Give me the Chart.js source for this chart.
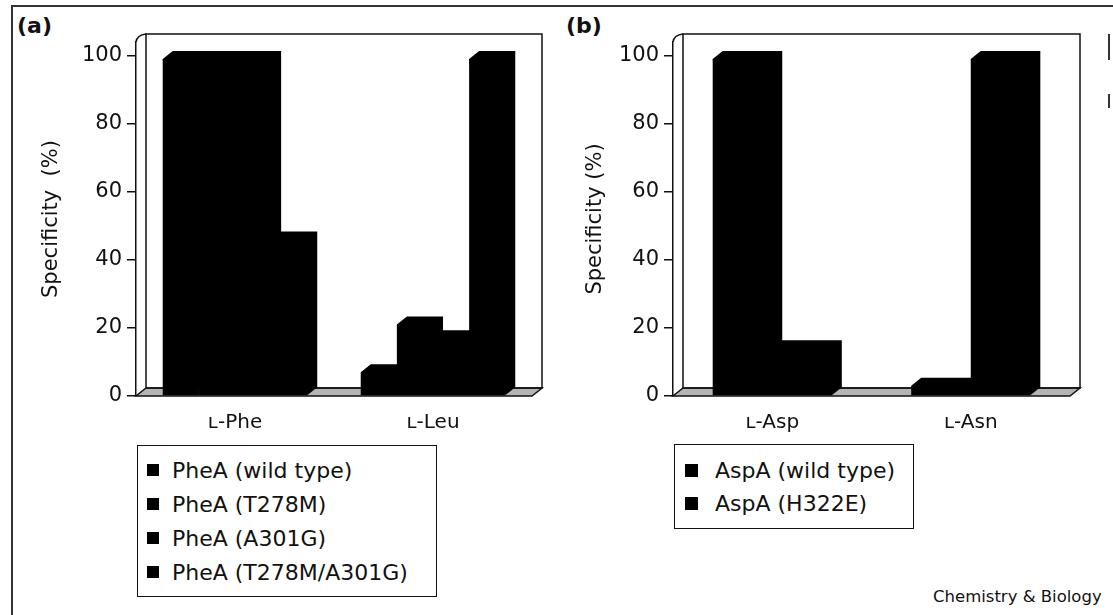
<!DOCTYPE html>
<html>
<head>
<meta charset="utf-8">
<script src="https://cdn.jsdelivr.net/npm/chart.js@4.4.1/dist/chart.umd.min.js"></script>
<style>
  body { margin: 0; background: #fff; font-family: 'DejaVu Sans', sans-serif; color: #111; }
  #page { position: relative; width: 1113px; height: 615px; overflow: hidden; background: #fff; }
  .rule { position: absolute; background: #333; }
  .tag { position: absolute; top: 13px; font-size: 22px; font-weight: bold; }
  canvas { position: absolute; top: 0; }
  .legend { position: absolute; border: 1.5px solid #111; box-sizing: border-box; }
  .legend .item { position: absolute; display: flex; align-items: center; height: 26px; font-size: 22px; white-space: nowrap; }
  .legend .swatch { position: absolute; top: 7px; }
  .credit { position: absolute; left: 933px; top: 587px; font-size: 16.5px; white-space: nowrap; }
</style>
</head>
<body>
<div id="page">
  <div class="rule" style="left:12px; top:5px; width:1101px; height:2px"></div>
  <div class="rule" style="left:11px; top:5px; width:2px; height:610px"></div>
  <div class="rule" style="left:1108px; top:34px; width:2px; height:26px"></div>
  <div class="rule" style="left:1108px; top:94px; width:2px; height:14px"></div>

  <div class="tag" style="left:17px">(a)</div>
  <div class="tag" style="left:566px">(b)</div>

  <canvas id="chartA" width="556" height="440" style="left:0"></canvas>
  <canvas id="chartB" width="557" height="440" style="left:556px"></canvas>

  <div class="legend" id="legendA" style="left:137px; top:445px; width:300px; height:152px"></div>
  <div class="legend" id="legendB" style="left:674px; top:444px; width:240px; height:85px"></div>

  <div class="credit">Chemistry &amp; Biology</div>
</div>

<script>
// ---- data ----
const pheCategories = ['ʟ-Phe', 'ʟ-Leu']
const pheWildType = [99, 7]
const pheT278M = [99, 21]
const pheA301G = [99, 17]
const pheT278MA301G = [46, 99]

const aspCategories = ['ʟ-Asp', 'ʟ-Asn']
const aspWildType = [99, 3]
const aspH322E = [14, 99]

const yTickValues = [0, 20, 40, 60, 80, 100]
const yMax = 104

// depth of the fake 3D box
const depth = { dx: 10, dy: 8 }

const box3d = {
    id: 'box3d',
    beforeDatasetsDraw(chart) {
        const { ctx, chartArea: { left, right, top, bottom } } = chart
        const { dx, dy } = depth
        ctx.save()
        ctx.lineWidth = 1.5
        ctx.strokeStyle = '#111'
        // floor
        ctx.beginPath()
        ctx.moveTo(left, bottom)
        ctx.lineTo(right, bottom)
        ctx.lineTo(right + dx, bottom - dy)
        ctx.lineTo(left + dx, bottom - dy)
        ctx.closePath()
        ctx.fillStyle = '#b4b4b4'
        ctx.fill()
        ctx.stroke()
        // back wall
        ctx.strokeRect(left + dx, top - dy, right - left, bottom - top)
        // left wall top edge
        ctx.beginPath()
        ctx.moveTo(left, top)
        ctx.quadraticCurveTo(left + 1, top - dy + 1, left + dx, top - dy)
        ctx.stroke()
        ctx.restore()
    },
    afterDatasetsDraw(chart) {
        const { ctx } = chart
        const { dx, dy } = depth
        ctx.save()
        chart.data.datasets.forEach((ds, i) => {
            const meta = chart.getDatasetMeta(i)
            if (meta.hidden) return
            meta.data.forEach(bar => {
                const { x, y, base, width } = bar.getProps(['x', 'y', 'base', 'width'], true)
                const x0 = x - width / 2
                const x1 = x + width / 2
                // top face + right side face
                ctx.beginPath()
                ctx.moveTo(x0, y)
                ctx.lineTo(x0 + dx, y - dy)
                ctx.lineTo(x1 + dx, y - dy)
                ctx.lineTo(x1 + dx, base - dy)
                ctx.lineTo(x1, base)
                ctx.closePath()
                ctx.fillStyle = ds.backgroundColor
                ctx.fill()
            })
        })
        ctx.restore()
    }
}

const makeOptions = ({ yWidth, titlePad, padRight, titleText, catPct }) => ({
    responsive: false,
    animation: false,
    devicePixelRatio: 1,
    layout: { padding: { top: 42, right: padRight, bottom: 0, left: 0 } },
    datasets: { bar: { categoryPercentage: catPct, barPercentage: 1 } },
    plugins: {
        legend: { display: false },
        tooltip: { enabled: false }
    },
    scales: {
        x: {
            grid: { display: false, drawTicks: false },
            border: { display: false },
            ticks: { color: '#111', padding: 15, font: { family: 'DejaVu Sans', size: 20 } },
            afterFit: s => { s.height = 44 }
        },
        y: {
            min: 0,
            max: yMax,
            afterBuildTicks: s => { s.ticks = yTickValues.map(v => ({ value: v })) },
            grid: { drawOnChartArea: false, drawTicks: true, tickLength: 9, color: '#111', lineWidth: 1.5 },
            border: { display: true, color: '#111', width: 1.5 },
            ticks: { color: '#111', padding: 5, font: { family: 'DejaVu Sans', size: 21 } },
            title: {
                display: true,
                text: titleText,
                color: '#111',
                padding: { top: titlePad, bottom: 0 },
                font: { family: 'DejaVu Sans', size: 21 }
            },
            afterFit: s => { s.width = yWidth }
        }
    }
})

const barSet = (label, data, color) => ({
    label: label,
    data: data,
    backgroundColor: color,
    borderWidth: 0
})

const chartA = new Chart(document.getElementById('chartA'), {
    type: 'bar',
    data: {
        labels: pheCategories,
        datasets: [
            barSet('PheA (wild type)', pheWildType, '#000'),
            barSet('PheA (T278M)', pheT278M, '#000'),
            barSet('PheA (A301G)', pheA301G, '#000'),
            barSet('PheA (T278M/A301G)', pheT278MA301G, '#000')
        ]
    },
    options: makeOptions({ yWidth: 136, titlePad: 39, padRight: 24, titleText: 'Specificity  (%)', catPct: 0.73 }),
    plugins: [box3d]
})

const chartB = new Chart(document.getElementById('chartB'), {
    type: 'bar',
    data: {
        labels: aspCategories,
        datasets: [
            barSet('AspA (wild type)', aspWildType, '#000'),
            barSet('AspA (H322E)', aspH322E, '#000')
        ]
    },
    options: makeOptions({ yWidth: 117, titlePad: 27, padRight: 43, titleText: 'Specificity (%)', catPct: 0.6 }),
    plugins: [box3d]
})

// HTML legend built from the chart's own legend items
function buildLegend(chart, el, cfg) {
    const items = Chart.defaults.plugins.legend.labels.generateLabels(chart)
    items.forEach((it, i) => {
        const row = document.createElement('div')
        row.className = 'item'
        row.style.left = cfg.textLeft + 'px'
        row.style.top = (cfg.first + i * cfg.pitch - 13) + 'px'
        row.textContent = it.text
        const sw = document.createElement('div')
        sw.className = 'swatch'
        sw.style.left = (cfg.swatchLeft - cfg.textLeft) + 'px'
        sw.style.width = cfg.swatch + 'px'
        sw.style.height = cfg.swatch + 'px'
        sw.style.background = it.fillStyle
        row.appendChild(sw)
        el.appendChild(row)
    })
}

buildLegend(chartA, document.getElementById('legendA'), { first: 24, pitch: 34, swatchLeft: 9, swatch: 12, textLeft: 34 })
buildLegend(chartB, document.getElementById('legendB'), { first: 25, pitch: 33, swatchLeft: 10, swatch: 13, textLeft: 40 })
</script>
</body>
</html>
